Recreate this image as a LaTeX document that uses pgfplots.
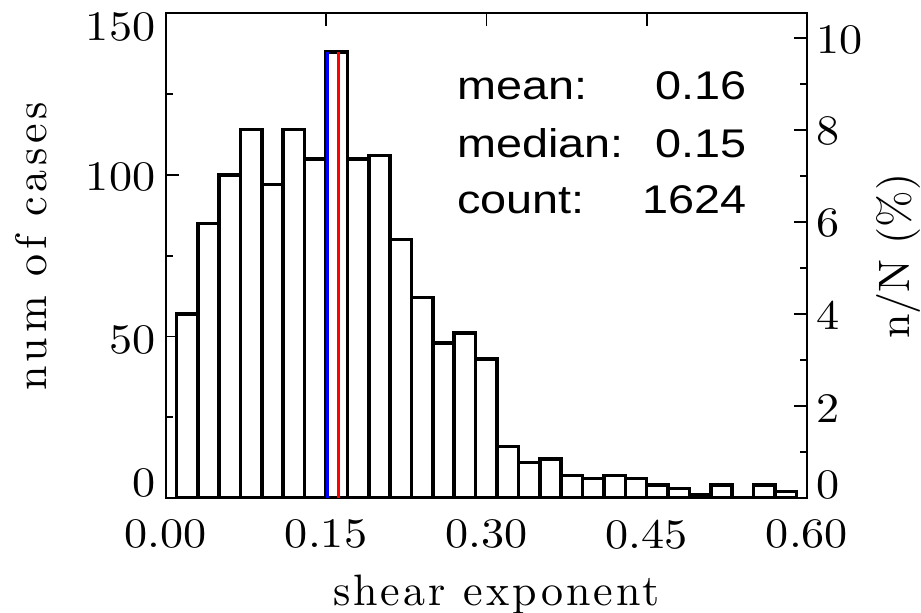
\documentclass[border=0pt]{standalone}
\usepackage{fontspec}
\usepackage{pgfplots}
\pgfplotsset{compat=1.18}
\newfontfamily\sansf{Liberation Sans}[FakeStretch=1.17]
\newfontfamily\lmtick{lmroman10-regular.otf}[FakeStretch=1.1]
\newfontfamily\lmlab{lmroman10-regular.otf}[LetterSpace=11]
\newfontfamily\lmlabx{lmroman10-regular.otf}[LetterSpace=7]
\newfontfamily\lmplain{lmroman10-regular.otf}
\newcommand\rl[2]{\smash{\raisebox{#1}{#2}}}
\begin{document}
\begin{tikzpicture}
\pgfplotsset{
  common/.style={
    scale only axis, width=320.65pt, height=242.35pt,
    at={(0,0)}, anchor=south west,
    xmin=0, xmax=0.6,
    tick align=inside,
    major tick length=6.5pt, minor tick length=3.5pt,
    tick style={black, line width=0.85pt},
    axis line style={line width=0.85pt},
    /pgf/number format/assume math mode=true,
    ticklabel style={font={\lmtick\fontsize{21}{25}\selectfont}},
  }
}
\begin{axis}[common,
  ymin=0, ymax=150,
  xtick={0,0.15,0.3,0.45,0.6},
  xticklabels={0.00,0.15,0.30,0.45,0.60},
  xtick pos=both, xticklabel pos=lower,
  ytick={0,50,100,150}, minor ytick={25,75,125},
  yticklabels={\rl{0.6pt}{0},\rl{-8.3pt}{50},\rl{-8.0pt}{100},\rl{-13.5pt}{150}},
  ytick pos=left,
  xticklabel style={yshift=-7.3pt},
  yticklabel style={xshift=-1.7pt},
]
\coordinate (bl) at (rel axis cs:0,0);
\coordinate (tr) at (rel axis cs:1,1);
\addplot[ybar interval, draw=black, fill=white, line width=1.8pt] coordinates {
(0.01,57) (0.03,85) (0.05,100) (0.07,114) (0.09,97) (0.11,114) (0.13,105)
(0.15,138) (0.17,105) (0.19,106) (0.21,80) (0.23,62) (0.25,48) (0.27,51)
(0.29,43) (0.31,16) (0.33,11) (0.35,12) (0.37,7) (0.39,6) (0.41,7) (0.43,6)
(0.45,4) (0.47,3) (0.49,1) (0.51,4) (0.53,0) (0.55,4) (0.57,2) (0.59,0)};
\addplot[blue, line width=1.75pt] coordinates {(0.1515,0) (0.1515,138)};
\addplot[red, line width=1.6pt] coordinates {(0.1615,0) (0.1615,138)};
\node[anchor=base west, inner sep=0, font={\sansf\fontsize{20}{24}\selectfont}] at (axis cs:0.2725,123.2) {mean:};
\node[anchor=base west, inner sep=0, font={\sansf\fontsize{20}{24}\selectfont}] at (axis cs:0.2725,105.5) {median:};
\node[anchor=base west, inner sep=0, font={\sansf\fontsize{20}{24}\selectfont}] at (axis cs:0.2725,87.9) {count:};
\node[anchor=base east, inner sep=0, font={\sansf\fontsize{20}{24}\selectfont}] at (axis cs:0.5434,123.2) {0.16};
\node[anchor=base east, inner sep=0, font={\sansf\fontsize{20}{24}\selectfont}] at (axis cs:0.5434,105.5) {0.15};
\node[anchor=base east, inner sep=0, font={\sansf\fontsize{20}{24}\selectfont}] at (axis cs:0.5434,87.9) {1624};
\end{axis}
\begin{axis}[common,
  ymin=0, ymax=10.53,
  axis x line=none, axis y line*=right,
  ytick={0,2,4,6,8,10}, minor ytick={1,3,5,7,9},
  yticklabels={\rl{0pt}{0},\rl{-8.2pt}{2},\rl{-8pt}{4},\rl{-7.1pt}{6},\rl{-7.5pt}{8},\rl{-7.9pt}{10}},
  yticklabel style={xshift=1.2pt},
]
\addplot[draw=none] coordinates {(0,0) (0.6,10)};
\end{axis}
\node[rotate=90, font={\lmlab\fontsize{22}{26}\selectfont}, inner sep=0] at ([shift={(-67.35pt,126.0pt)}]bl) {num of cases};
\node[rotate=90, font={\lmplain\fontsize{22}{26}\selectfont}, inner sep=0] at ([shift={(366.15pt,121.0pt)}]bl) {n/N (\%)};
\node[anchor=base, font={\lmlabx\fontsize{22}{26}\selectfont}, inner sep=0] at ([shift={(165.4pt,-53.5pt)}]bl) {shear exponent};
\pgfresetboundingbox
\path[use as bounding box] ([shift={(-82.85pt,-57pt)}]bl) rectangle ([shift={(57pt,6.65pt)}]tr);
\end{tikzpicture}
\end{document}
